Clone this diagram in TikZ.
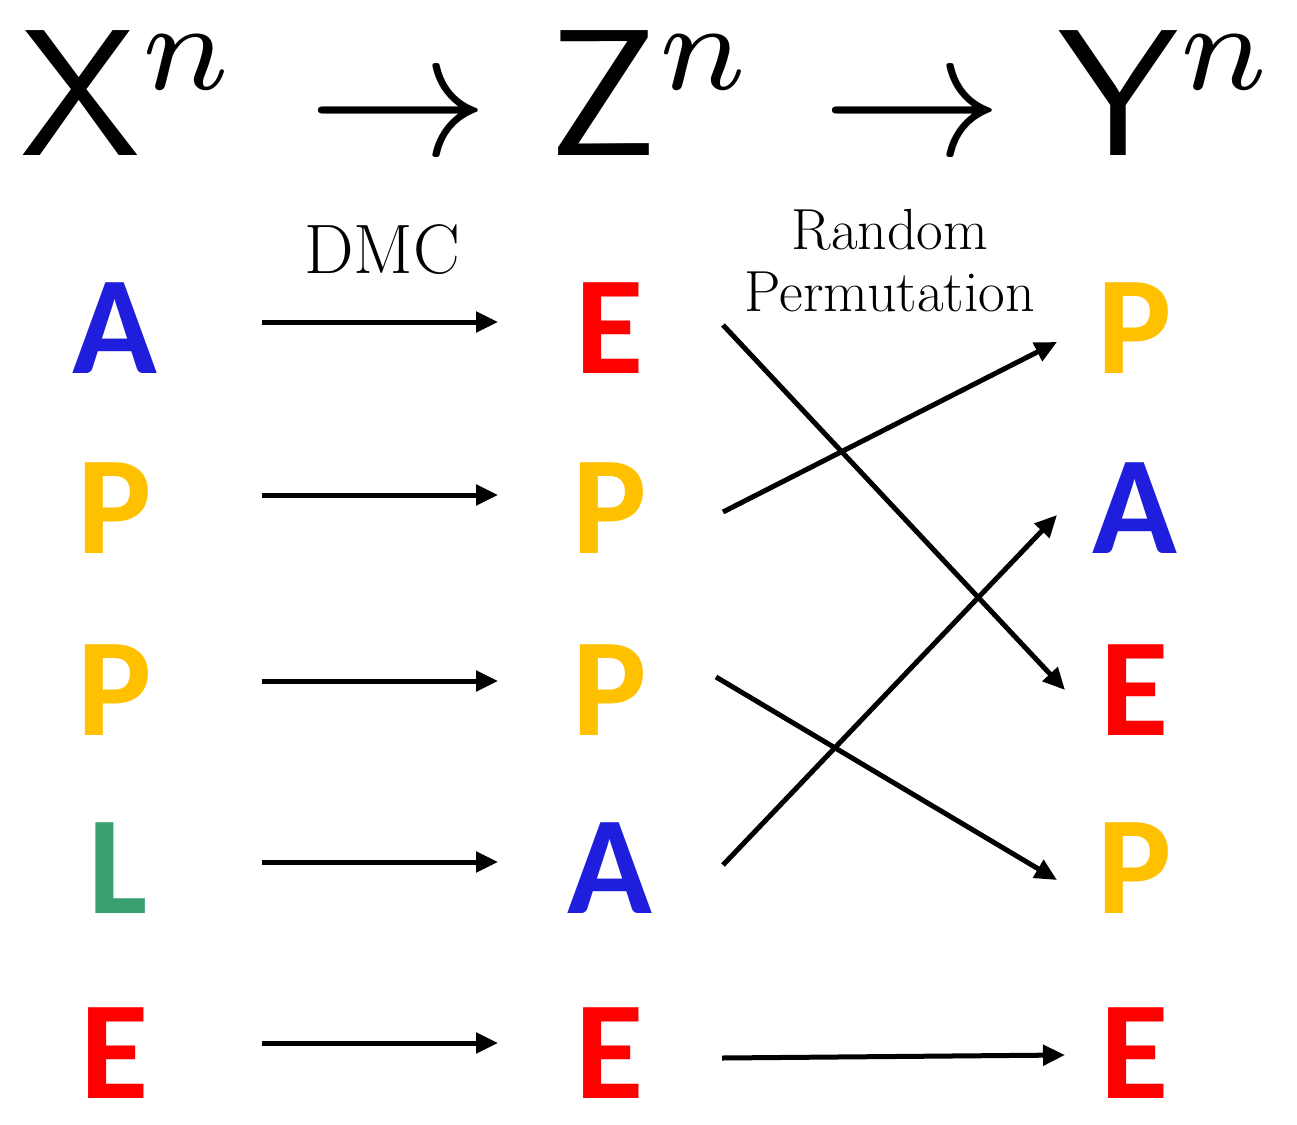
\documentclass[tikz,border=0pt]{standalone}
\usepackage{fontspec}
\newfontfamily\carl{Carlito}
\usetikzlibrary{arrows.meta}
\definecolor{cb}{RGB}{30,30,220}
\definecolor{cy}{RGB}{255,192,0}
\definecolor{cr}{RGB}{255,0,0}
\definecolor{cg}{RGB}{55,160,110}
\begin{document}
\begin{tikzpicture}[x=1pt,y=-1pt,
  let/.style={font=\carl\bfseries\fontsize{140}{140}\selectfont,inner sep=0pt,anchor=center},
  hd/.style={inner sep=0pt,anchor=base},
  arr/.style={line width=5pt,-{Triangle[length=22pt,width=20pt]}},
  lab/.style={font=\fontsize{58}{58}\selectfont,inner sep=0pt}]
\useasboundingbox (0,0) rectangle (1297,1124);
\node[hd] (hx) at (130,155) {\scalebox{18}{$\mathsf{X}^n$}};
\node[hd] (a1) at (398,155) {\scalebox{18}{$\rightarrow$}};
\node[hd] (hz) at (652,155) {\scalebox{18}{$\mathsf{Z}^n$}};
\node[hd] (a2) at (912,155) {\scalebox{18}{$\rightarrow$}};
\node[hd] (hy) at (1168,155) {\scalebox{18}{$\mathsf{Y}^n$}};
\node[lab,font=\fontsize{70}{70}\selectfont] (dmc) at (382,250) {DMC};
\node[lab] (rp1) at (890,230) {Random};
\node[lab] (rp2) at (890,292) {Permutation};
% X column
\node[let,text=cb] (x1) at (115,328) {A};
\node[let,text=cy] (x2) at (115,508) {P};
\node[let,text=cy] (x3) at (115,690) {P};
\node[let,text=cg] (x4) at (118,868) {L};
\node[let,text=cr] (x5) at (115,1053) {E};
% Z column
\node[let,text=cr] (z1) at (610,328) {E};
\node[let,text=cy] (z2) at (610,508) {P};
\node[let,text=cy] (z3) at (610,690) {P};
\node[let,text=cb] (z4) at (610,868) {A};
\node[let,text=cr] (z5) at (610,1053) {E};
% Y column
\node[let,text=cy] (y1) at (1135,328) {P};
\node[let,text=cb] (y2) at (1135,508) {A};
\node[let,text=cr] (y3) at (1135,690) {E};
\node[let,text=cy] (y4) at (1135,868) {P};
\node[let,text=cr] (y5) at (1135,1053) {E};
% DMC arrows
\foreach \i/\y in {1/322,2/495,3/681,4/862,5/1043}{
  \coordinate (ds\i) at (262,\y);
  \coordinate (de\i) at (498,\y);
  \draw[arr] (ds\i) -- (de\i);
}
% permutation arrows
\coordinate (p1s) at (723,325); \coordinate (p1e) at (1065,690);
\coordinate (p2s) at (723,512); \coordinate (p2e) at (1057,342);
\coordinate (p3s) at (716,677); \coordinate (p3e) at (1057,880);
\coordinate (p4s) at (723,865); \coordinate (p4e) at (1057,515);
\coordinate (p5s) at (722,1058); \coordinate (p5e) at (1065,1055);
\foreach \i in {1,...,5}{\draw[arr] (p\i s) -- (p\i e);}
\end{tikzpicture}
\end{document}
